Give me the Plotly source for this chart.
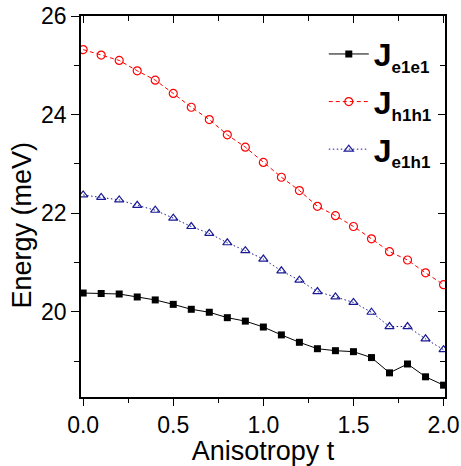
import plotly.graph_objects as go

# Anisotropy parameter t
t_values = [0.0, 0.1, 0.2, 0.3, 0.4, 0.5, 0.6, 0.7, 0.8, 0.9, 1.0,
            1.1, 1.2, 1.3, 1.4, 1.5, 1.6, 1.7, 1.8, 1.9, 2.0]

# Coulomb energies (meV)
j_e1e1 = [20.38, 20.37, 20.36, 20.30, 20.24, 20.15, 20.05, 19.99, 19.88, 19.81, 19.69,
          19.53, 19.38, 19.25, 19.21, 19.19, 19.07, 18.76, 18.94, 18.68, 18.51]
j_h1h1 = [25.32, 25.21, 25.10, 24.89, 24.70, 24.43, 24.15, 23.90, 23.59, 23.34, 23.03,
          22.73, 22.46, 22.14, 21.95, 21.73, 21.48, 21.22, 21.05, 20.79, 20.55]
j_e1h1 = [22.37, 22.32, 22.27, 22.16, 22.06, 21.90, 21.73, 21.59, 21.40, 21.24, 21.07,
          20.83, 20.64, 20.41, 20.30, 20.19, 19.99, 19.70, 19.70, 19.45, 19.23]

x_ticks = [0.0, 0.5, 1.0, 1.5, 2.0]
x_tick_text = ["0.0", "0.5", "1.0", "1.5", "2.0"]
y_ticks = [20, 22, 24, 26]
y_tick_text = ["20", "22", "24", "26"]

FONT = "Liberation Sans, Arial, sans-serif"
SUB = '<sub><span style="font-size:17px">{}</span></sub>'


def legend_name(sub):
    return "<b>J" + SUB.format(sub) + "</b>"


fig = go.Figure()

fig.add_trace(go.Scatter(
    x=t_values, y=j_e1e1, mode="lines+markers",
    name=legend_name("e1e1"), legendgroup="a",
    line=dict(color="black", width=1),
    marker=dict(symbol="square", size=7, color="black"),
))
fig.add_trace(go.Scatter(
    x=t_values, y=j_h1h1, mode="lines+markers",
    name=legend_name("h1h1"), legendgroup="b",
    line=dict(color="#ff0000", width=1, dash="4px,3px"),
    marker=dict(symbol="circle-open", size=8, color="#ff0000", line=dict(width=1.2)),
))
fig.add_trace(go.Scatter(
    x=t_values, y=j_e1h1, mode="lines+markers",
    name=legend_name("e1h1"), legendgroup="c",
    line=dict(color="#1a1a96", width=1, dash="1.5px,2.5px"),
    marker=dict(symbol="triangle-up-open", size=8, color="#1a1a96", line=dict(width=1.2)),
))
# Transparent copy bound to the mirrored top/right axes so they get drawn
fig.add_trace(go.Scatter(
    x=t_values, y=j_e1e1, xaxis="x2", yaxis="y2", mode="markers",
    marker=dict(opacity=0), showlegend=False, hoverinfo="skip",
))

x_range = [-0.012, 2.008]
y_range = [18.27, 26.002]

common_axis = dict(showgrid=False, zeroline=False, showline=True,
                   linecolor="black", linewidth=1.5, automargin=False)

fig.update_layout(
    width=461, height=466,
    margin=dict(l=81, r=16, t=16, b=69),
    paper_bgcolor="white", plot_bgcolor="white",
    font=dict(family=FONT, color="black"),
    showlegend=True,
    legend=dict(
        x=0.667, y=0.972, xanchor="left", yanchor="top",
        bgcolor="rgba(0,0,0,0)", borderwidth=0,
        font=dict(family=FONT, size=32, color="black"),
        tracegroupgap=3, itemwidth=40,
    ),
    xaxis=dict(
        **common_axis, range=x_range,
        tickmode="array", tickvals=x_ticks, ticktext=x_tick_text,
        ticks="outside", ticklen=7, tickwidth=1.3, tickcolor="black",
        minor=dict(dtick=0.25, tick0=0, ticks="outside", ticklen=4,
                   tickwidth=1.3, tickcolor="black"),
        tickfont=dict(family=FONT, size=23, color="black"),
        title=dict(text="Anisotropy t", font=dict(family=FONT, size=27, color="black"),
                   standoff=4),
    ),
    xaxis2=dict(
        **common_axis, range=x_range, overlaying="x", side="top",
        tickmode="array", tickvals=x_ticks, showticklabels=False,
        ticks="inside", ticklen=7, tickwidth=1.3, tickcolor="black",
        minor=dict(dtick=0.25, tick0=0, ticks="inside", ticklen=5,
                   tickwidth=1.3, tickcolor="black"),
    ),
    yaxis=dict(
        **common_axis, range=y_range,
        tickmode="array", tickvals=y_ticks, ticktext=y_tick_text,
        ticks="outside", ticklen=8, tickwidth=1.3, tickcolor="black",
        minor=dict(dtick=1, tick0=0, ticks="outside", ticklen=5,
                   tickwidth=1.3, tickcolor="black"),
        tickfont=dict(family=FONT, size=23, color="black"),
    ),
    yaxis2=dict(
        **common_axis, range=y_range, overlaying="y", side="right",
        tickmode="array", tickvals=y_ticks, showticklabels=False,
        ticks="inside", ticklen=7, tickwidth=1.3, tickcolor="black",
        minor=dict(dtick=1, tick0=0, ticks="inside", ticklen=5,
                   tickwidth=1.3, tickcolor="black"),
    ),
    annotations=[dict(
        text="Energy (meV)", xref="paper", yref="paper",
        x=-0.162, y=0.45, xanchor="center", yanchor="middle",
        textangle=-90, showarrow=False,
        font=dict(family=FONT, size=27, color="black"),
    )],
)

fig.write_html("out.html")
